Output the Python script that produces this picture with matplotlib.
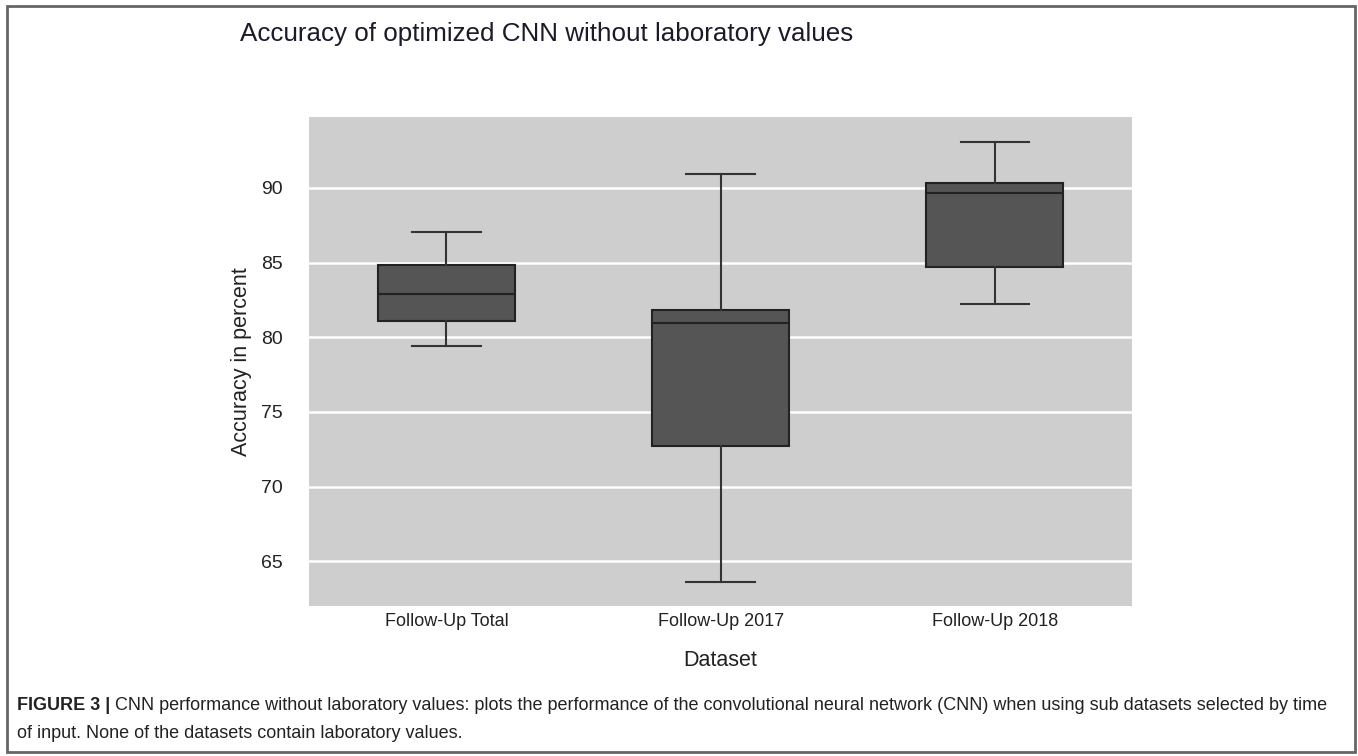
import matplotlib
matplotlib.use("Agg")
import matplotlib.pyplot as plt
from matplotlib.patches import Rectangle

# values
datasets = ["Follow-Up Total", "Follow-Up 2017", "Follow-Up 2018"]
whisker_low = [79.4, 63.6, 82.2]
q1 = [81.07, 72.75, 84.72]
median = [82.92, 80.92, 89.62]
q3 = [84.86, 81.82, 90.3]
whisker_high = [87.03, 90.94, 93.1]
yticks = [65, 70, 75, 80, 85, 90]

W, H = 1358, 756
fig = plt.figure(figsize=(W / 100, H / 100), dpi=100)
plt.rcParams['font.family'] = ['Liberation Sans', 'DejaVu Sans']

ax = fig.add_axes([309.3 / W, 1 - 605.7 / H, (1132 - 309.3) / W, (605.7 - 116.7) / H])
ax.set_facecolor('#cecece')

stats = []
for name, lo, a, m, b, hi in zip(datasets, whisker_low, q1, median, q3, whisker_high):
    stats.append({'label': name, 'whislo': lo, 'q1': a, 'med': m, 'q3': b, 'whishi': hi, 'fliers': []})

ax.bxp(stats, positions=range(len(datasets)), widths=0.5, capwidths=0.25,
       showfliers=False, patch_artist=True,
       boxprops=dict(facecolor='#555555', edgecolor='#222222', linewidth=1.5),
       medianprops=dict(color='#222222', linewidth=1.5),
       whiskerprops=dict(color='#333333', linewidth=1.5),
       capprops=dict(color='#333333', linewidth=1.5),
       zorder=3)

ax.set_xlim(-0.5, 2.5)
ax.set_ylim(62.03, 94.76)
ax.set_yticks(yticks)
ax.set_yticklabels([str(t) for t in yticks])
ax.set_xticks(range(len(datasets)))
ax.set_xticklabels(datasets)
ax.grid(axis='y', color='white', linewidth=1.8, zorder=0)
ax.set_axisbelow(True)
for s in ax.spines.values():
    s.set_visible(False)
ax.tick_params(axis='both', length=0, colors='#222222')
ax.tick_params(axis='y', pad=19, labelsize=14)
ax.tick_params(axis='x', pad=5, labelsize=13)

ax.set_xlabel("Dataset", fontsize=15.5, color='#222222')
ax.xaxis.set_label_coords(0.5, -(660 - 605.7) / 489)
ax.xaxis.label.set_va('center')
ax.set_ylabel("Accuracy in percent", fontsize=15.5, color='#222222')
ax.yaxis.set_label_coords(-(309.3 - 241) / 822.7, 0.5)
ax.yaxis.label.set_va('center')

fig.text(240 / W, 1 - 34 / H, "Accuracy of optimized CNN without laboratory values",
         fontsize=18.7, color='#1a1a2a', ha='left', va='center')

# frame around the figure and caption
fig.patches.append(Rectangle((7 / W, 1 - 752 / H), (1355 - 7) / W, (752 - 6) / H,
                             transform=fig.transFigure, fill=False,
                             edgecolor='#666666', linewidth=2))

cap_font = ['Liberation Sans Narrow', 'Liberation Sans', 'DejaVu Sans']
bold = fig.text(17 / W, 1 - 706 / H, "FIGURE 3 |", fontsize=13, fontweight='bold',
                family=cap_font, ha='left', va='center', color='#222222')
fig.canvas.draw()
bb = bold.get_window_extent()
fig.text((bb.x1 + 5) / W, 1 - 706 / H,
         "CNN performance without laboratory values: plots the performance of the convolutional "
         "neural network (CNN) when using sub datasets selected by time",
         fontsize=13, family=cap_font, ha='left', va='center', color='#222222')
fig.text(17 / W, 1 - 733 / H, "of input. None of the datasets contain laboratory values.",
         fontsize=13, family=cap_font, ha='left', va='center', color='#222222')

fig.savefig("out.png", dpi=100)
